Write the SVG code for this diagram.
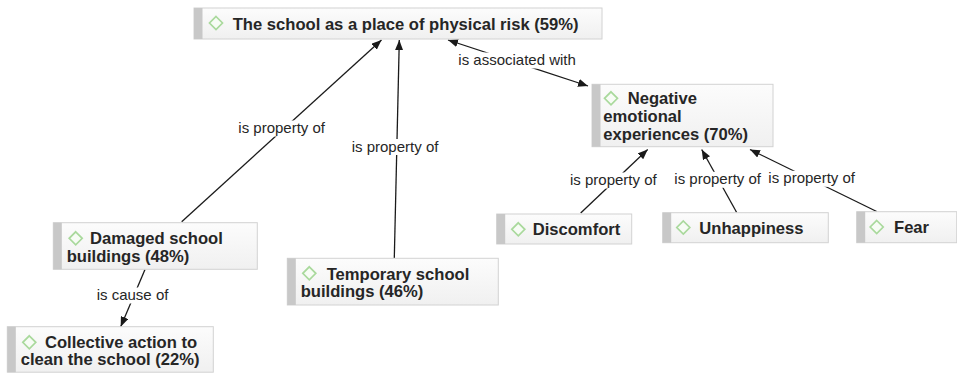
<svg xmlns="http://www.w3.org/2000/svg" width="957" height="373" viewBox="0 0 957 373">
<defs>
<linearGradient id="boxfill" x1="0" y1="0" x2="0" y2="1">
<stop offset="0" stop-color="#fcfcfc"/>
<stop offset="1" stop-color="#f0f0f0"/>
</linearGradient>
<marker id="arr" viewBox="0 0 10 8" refX="10" refY="4" markerWidth="10" markerHeight="8" markerUnits="userSpaceOnUse" orient="auto-start-reverse">
<path d="M0,0 L10,4 L0,8 z" fill="#1a1a1a"/>
</marker>
<path id="dia" d="M0,-6.5 L6.5,0 L0,6.5 L-6.5,0 z"/>
</defs>
<style>
.box{fill:url(#boxfill);stroke:#d2d2d2;stroke-width:1}
.bar{fill:#c8c8c8}
.icon{fill:#f7fcf5;stroke:#a9d99c;stroke-width:1.7}
.nt{font-family:"Liberation Sans",Arial,sans-serif;font-weight:bold;font-size:16.6px;fill:#262626}
.lt{font-family:"Liberation Sans",Arial,sans-serif;font-size:15px;fill:#262626}
.lbg{fill:#ffffff}
.edge{stroke:#1a1a1a;stroke-width:1.3;fill:none}
</style>
<rect width="957" height="373" fill="#ffffff"/>
<g id="connectors">
<line class="edge" x1="181.7" y1="221.7" x2="381.5" y2="40" marker-end="url(#arr)"/>
<line class="edge" x1="394.3" y1="258" x2="399.3" y2="40" marker-end="url(#arr)"/>
<line class="edge" x1="448" y1="40" x2="588" y2="86" marker-start="url(#arr)" marker-end="url(#arr)"/>
<line class="edge" x1="145" y1="269.5" x2="120.7" y2="326.7" marker-end="url(#arr)"/>
<line class="edge" x1="580.7" y1="213" x2="647.7" y2="149.5" marker-end="url(#arr)"/>
<line class="edge" x1="736.7" y1="212.5" x2="701.7" y2="149.5" marker-end="url(#arr)"/>
<line class="edge" x1="876.7" y1="211.5" x2="750" y2="149.5" marker-end="url(#arr)"/>
<rect class="lbg" x="236.5" y="120.5" width="90.5" height="16"/>
<text class="lt" x="238.3" y="133.3">is property of</text>
<rect class="lbg" x="350" y="139" width="91" height="16"/>
<text class="lt" x="351.7" y="151.7">is property of</text>
<rect class="lbg" x="456.5" y="52.5" width="122" height="16"/>
<text class="lt" x="458.3" y="65">is associated with</text>
<rect class="lbg" x="95" y="287.5" width="75" height="16"/>
<text class="lt" x="96.7" y="300">is cause of</text>
<rect class="lbg" x="568.5" y="172.5" width="90" height="16"/>
<text class="lt" x="570" y="185">is property of</text>
<rect class="lbg" x="672.8" y="171.8" width="90" height="16"/>
<text class="lt" x="674.3" y="184.3">is property of</text>
<rect class="lbg" x="766.8" y="170.8" width="90" height="16"/>
<text class="lt" x="768.3" y="183.3">is property of</text>
</g>
<g id="node-top">
<rect class="box" x="194" y="8" width="408" height="31"/>
<rect class="bar" x="194" y="8" width="8.5" height="31"/>
<use href="#dia" class="icon" x="216" y="23"/>
<text class="nt" x="232.7" y="30">The school as a place of physical risk (59%)</text>
</g>
<g id="node-negative">
<rect class="box" x="592" y="84.3" width="181" height="62.4"/>
<rect class="bar" x="592" y="84.3" width="8.5" height="62.4"/>
<use href="#dia" class="icon" x="611" y="98.3"/>
<text class="nt"><tspan x="627.7" y="104">Negative</tspan><tspan x="603.3" y="122">emotional</tspan><tspan x="603.3" y="140">experiences (70%)</tspan></text>
</g>
<g id="node-damaged">
<rect class="box" x="53.3" y="222.7" width="204" height="46.6"/>
<rect class="bar" x="53.3" y="222.7" width="8.5" height="46.6"/>
<use href="#dia" class="icon" x="75.7" y="238.3"/>
<text class="nt"><tspan x="90" y="244">Damaged school</tspan><tspan x="66.7" y="261.8">buildings (48%)</tspan></text>
</g>
<g id="node-temporary">
<rect class="box" x="287.3" y="258.3" width="211" height="46.7"/>
<rect class="bar" x="287.3" y="258.3" width="8.5" height="46.7"/>
<use href="#dia" class="icon" x="309.3" y="273.3"/>
<text class="nt"><tspan x="326.7" y="279.5">Temporary school</tspan><tspan x="300.7" y="297.3">buildings (46%)</tspan></text>
</g>
<g id="node-collective">
<rect class="box" x="7.3" y="326.7" width="206" height="45.5"/>
<rect class="bar" x="7.3" y="326.7" width="8.5" height="45.5"/>
<use href="#dia" class="icon" x="29.3" y="342.3"/>
<text class="nt"><tspan x="45" y="347.5">Collective action to</tspan><tspan x="20.7" y="365.3">clean the school (22%)</tspan></text>
</g>
<g id="node-discomfort">
<rect class="box" x="496.7" y="214" width="135" height="30"/>
<rect class="bar" x="496.7" y="214" width="8.5" height="30"/>
<use href="#dia" class="icon" x="518.3" y="229.3"/>
<text class="nt" x="532.7" y="234.5">Discomfort</text>
</g>
<g id="node-unhappiness">
<rect class="box" x="662.7" y="212.7" width="165.6" height="30"/>
<rect class="bar" x="662.7" y="212.7" width="8.5" height="30"/>
<use href="#dia" class="icon" x="683.3" y="227.5"/>
<text class="nt" x="699.3" y="233.5">Unhappiness</text>
</g>
<g id="node-fear">
<rect class="box" x="856.7" y="211.7" width="100" height="31"/>
<rect class="bar" x="856.7" y="211.7" width="8.5" height="31"/>
<use href="#dia" class="icon" x="876.7" y="227"/>
<text class="nt" x="894" y="233.3">Fear</text>
</g>
</svg>
